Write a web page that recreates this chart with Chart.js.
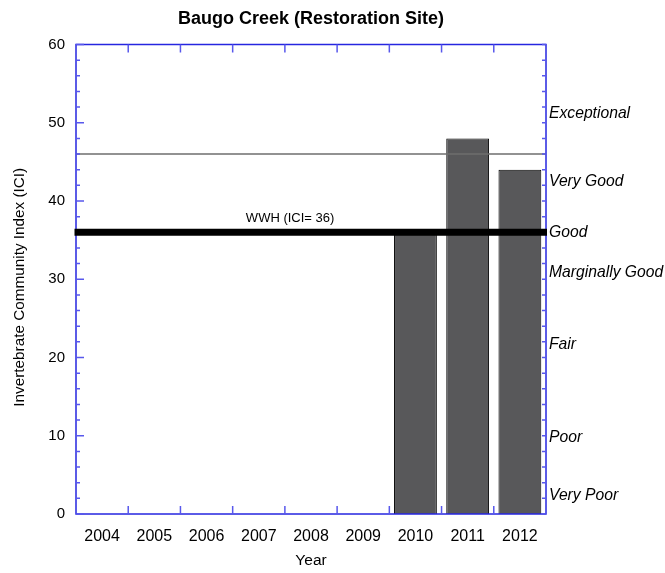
<!DOCTYPE html>
<html>
<head>
<meta charset="utf-8">
<style>
  html, body { margin: 0; padding: 0; background: #ffffff; }
  #wrap { width: 665px; height: 573px; }
  canvas { display: block; }
</style>
<script src="https://cdn.jsdelivr.net/npm/chart.js@4"></script>
</head>
<body>
<div id="wrap"><canvas id="c" width="665" height="573"></canvas></div>
<script>
// ---- data ----
const years = ['2004', '2005', '2006', '2007', '2008', '2009', '2010', '2011', '2012'];
const iciValues = [null, null, null, null, null, null, 36, 48, 44];
const wwhCriterion = 36;
const exceptionalThreshold = 46;
const ratingLabels = ['Exceptional', 'Very Good', 'Good', 'Marginally Good', 'Fair', 'Poor', 'Very Poor'];
const ratingPositions = [51.2, 42.5, 35.9, 30.8, 21.6, 9.7, 2.4];
const chartTitle = 'Baugo Creek (Restoration Site)';
const yAxisTitle = 'Invertebrate Community Index (ICI)';
const xAxisTitle = 'Year';

const FONT = "'Liberation Sans', Arial, Helvetica, sans-serif";
Chart.defaults.font.family = FONT;

const framePlugin = {
  id: 'frame',
  afterDatasetsDraw(chart) {
    const { ctx, chartArea: a, scales } = chart;
    const x = scales.x, y = scales.y;
    ctx.save();

    // thin threshold line (Exceptional)
    const yEx = y.getPixelForValue(exceptionalThreshold);
    ctx.strokeStyle = '#6e6e6e';
    ctx.lineWidth = 1.5;
    ctx.beginPath(); ctx.moveTo(a.left, yEx); ctx.lineTo(a.right, yEx); ctx.stroke();

    // frame
    ctx.strokeStyle = '#2626e0';
    ctx.lineWidth = 1.5;
    ctx.strokeRect(a.left, a.top, a.right - a.left, a.bottom - a.top);

    // y ticks (left & right, inward)
    ctx.strokeStyle = '#5858ec';
    ctx.lineWidth = 1.5;
    ctx.beginPath();
    for (let v = y.min; v <= y.max; v += 2) {
      const py = y.getPixelForValue(v);
      const len = (v % 10 === 0) ? 8 : 4;
      ctx.moveTo(a.left, py); ctx.lineTo(a.left + len, py);
      ctx.moveTo(a.right, py); ctx.lineTo(a.right - 4, py);
    }
    // x ticks at category boundaries (top & bottom, inward)
    for (let i = 0; i < years.length - 1; i++) {
      const px = (x.getPixelForValue(i) + x.getPixelForValue(i + 1)) / 2;
      ctx.moveTo(px, a.top); ctx.lineTo(px, a.top + 8);
      ctx.moveTo(px, a.bottom); ctx.lineTo(px, a.bottom - 8);
    }
    ctx.stroke();

    // WWH criterion line
    const yW = y.getPixelForValue(wwhCriterion);
    ctx.strokeStyle = '#000000';
    ctx.lineWidth = 7;
    ctx.beginPath(); ctx.moveTo(a.left - 1.5, yW); ctx.lineTo(a.right + 1, yW); ctx.stroke();

    // WWH label
    ctx.fillStyle = '#000000';
    ctx.font = '13px ' + FONT;
    ctx.textAlign = 'center';
    ctx.textBaseline = 'middle';
    ctx.fillText('WWH (ICI= ' + wwhCriterion + ')', x.getPixelForValue(3.6), yW - 14);

    // rating labels on right
    ctx.font = 'italic 15.7px ' + FONT;
    ctx.textAlign = 'left';
    ctx.textBaseline = 'middle';
    ratingLabels.forEach((lab, i) => {
      ctx.fillText(lab, a.right + 3, y.getPixelForValue(ratingPositions[i]));
    });

    // chart title
    ctx.font = 'bold 18px ' + FONT;
    ctx.textAlign = 'center';
    ctx.textBaseline = 'alphabetic';
    ctx.fillText(chartTitle, (a.left + a.right) / 2, 23.5);

    // y axis title
    ctx.font = '15.3px ' + FONT;
    ctx.save();
    ctx.translate(23.5, (a.top + a.bottom) / 2 + 8);
    ctx.rotate(-Math.PI / 2);
    ctx.textAlign = 'center';
    ctx.textBaseline = 'alphabetic';
    ctx.fillText(yAxisTitle, 0, 0);
    ctx.restore();

    ctx.restore();
  }
};

new Chart(document.getElementById('c'), {
  type: 'bar',
  data: {
    labels: years,
    datasets: [{
      data: iciValues,
      backgroundColor: '#58585a',
      borderColor: '#000000',
      borderWidth: 1,
      barPercentage: 0.82,
      categoryPercentage: 1.0
    }]
  },
  options: {
    responsive: false,
    animation: false,
    devicePixelRatio: 1,
    layout: { padding: { top: 44.5, left: 0, right: 0, bottom: 0 } },
    plugins: {
      legend: { display: false },
      tooltip: { enabled: false },
      title: { display: false }
    },
    scales: {
      x: {
        type: 'category',
        offset: true,
        grid: { display: false, drawTicks: false },
        border: { display: false },
        ticks: { color: '#000', font: { size: 16 }, padding: 13, maxRotation: 0, autoSkip: false },
        title: { display: true, text: xAxisTitle, color: '#000', font: { size: 15.5 }, padding: { top: 0, bottom: 3 } },
        afterFit(s) { s.height = 59; }
      },
      y: {
        position: 'left',
        min: 0, max: 60,
        grid: { display: false, drawTicks: false },
        border: { display: false },
        ticks: { stepSize: 10, color: '#000', font: { size: 15 }, padding: 11 },
        afterFit(s) { s.width = 76; }
      },
      y2: {
        position: 'right',
        min: 0, max: 60,
        grid: { display: false, drawTicks: false },
        border: { display: false },
        ticks: { display: false },
        afterFit(s) { s.width = 119; }
      }
    }
  },
  plugins: [framePlugin]
});
</script>
</body>
</html>
